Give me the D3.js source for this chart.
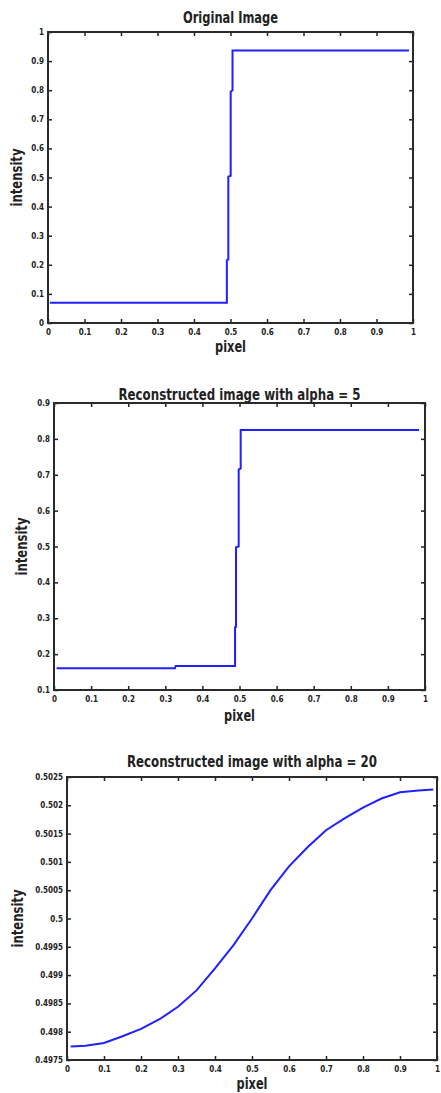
<!DOCTYPE html>
<html>
<head>
<meta charset="utf-8">
<script src="https://cdn.jsdelivr.net/npm/d3@7"></script>
<style>
  body { margin: 0; background: #fff; }
  text { font-family: "Liberation Sans Narrow", "DejaVu Sans Condensed", sans-serif; font-weight: bold; fill: #222; }
</style>
</head>
<body>
<script>
var width = 441;
var height = 1093;

// panel 1: original step
var pixel1 = [0.005, 0.49, 0.49, 0.494, 0.494, 0.5005, 0.5005, 0.5055, 0.5055, 0.989];
var intensity1 = [0.07, 0.07, 0.216, 0.218, 0.503, 0.506, 0.795, 0.80, 0.936, 0.936];

// panel 2: alpha = 5
var pixel2 = [0.007, 0.326, 0.328, 0.488, 0.488, 0.4906, 0.4906, 0.4978, 0.4978, 0.5032, 0.5032, 0.984];
var intensity2 = [0.1605, 0.1605, 0.1669, 0.1669, 0.275, 0.276, 0.498, 0.50, 0.715, 0.717, 0.8247, 0.8247];

// panel 3: alpha = 20
var pixel3 = [0.01, 0.05, 0.1, 0.15, 0.2, 0.25, 0.3, 0.35, 0.4, 0.45, 0.5, 0.55, 0.6, 0.65, 0.7, 0.75, 0.8, 0.85, 0.9, 0.95, 0.99];
var intensity3 = [0.49774, 0.49775, 0.4978, 0.49792, 0.49805, 0.49822, 0.49844, 0.49873, 0.49912, 0.49953, 0.5,
                  0.5005, 0.50092, 0.50126, 0.50156, 0.50177, 0.50196, 0.50212, 0.50223, 0.50226, 0.50228];

var xTicks = [0, 0.1, 0.2, 0.3, 0.4, 0.5, 0.6, 0.7, 0.8, 0.9, 1];
var yTicks1 = [0, 0.1, 0.2, 0.3, 0.4, 0.5, 0.6, 0.7, 0.8, 0.9, 1];
var yTicks2 = [0.1, 0.2, 0.3, 0.4, 0.5, 0.6, 0.7, 0.8, 0.9];
var yTicks3 = [0.4975, 0.498, 0.4985, 0.499, 0.4995, 0.5, 0.5005, 0.501, 0.5015, 0.502, 0.5025];

var titles = ["Original Image", "Reconstructed image with alpha = 5", "Reconstructed image with alpha = 20"];

var svg = d3.select("body")
  .append("svg")
  .attr("width", width)
  .attr("height", height);

var panels = [
  { xs: pixel1, ys: intensity1, yDomain: [0, 1], yTicks: yTicks1, title: titles[0],
    left: 48, right: 413, top: 32, bottom: 323, titleY: 23, titleW: 95, yLabX: 22, xLabY: 352 },
  { xs: pixel2, ys: intensity2, yDomain: [0.1, 0.9], yTicks: yTicks2, title: titles[1],
    left: 54, right: 425, top: 403, bottom: 690, titleY: 400, titleW: 242, yLabX: 27, xLabY: 721 },
  { xs: pixel3, ys: intensity3, yDomain: [0.4975, 0.5025], yTicks: yTicks3, title: titles[2],
    left: 67, right: 437, top: 777, bottom: 1060, titleY: 767, titleW: 250, yLabX: 23, xLabY: 1089 }
];

function fmt(v) { return String(+v.toFixed(4)); }

panels.forEach(function(p) {
  var x = d3.scaleLinear().domain([0, 1]).range([p.left, p.right]);
  var y = d3.scaleLinear().domain(p.yDomain).range([p.bottom, p.top]);
  var g = svg.append("g");

  // ticks on all four sides, pointing inwards
  g.append("g")
    .attr("transform", "translate(0," + p.bottom + ")")
    .call(d3.axisBottom(x).tickValues(xTicks).tickFormat(fmt).tickSizeInner(-4).tickSizeOuter(0).tickPadding(6));
  g.append("g")
    .attr("transform", "translate(0," + p.top + ")")
    .call(d3.axisTop(x).tickValues(xTicks).tickFormat("").tickSizeInner(-4).tickSizeOuter(0));
  g.append("g")
    .attr("transform", "translate(" + p.left + ",0)")
    .call(d3.axisLeft(y).tickValues(p.yTicks).tickFormat(fmt).tickSizeInner(-4).tickSizeOuter(0).tickPadding(4));
  g.append("g")
    .attr("transform", "translate(" + p.right + ",0)")
    .call(d3.axisRight(y).tickValues(p.yTicks).tickFormat("").tickSizeInner(-4).tickSizeOuter(0));

  g.selectAll(".domain").remove();
  g.selectAll(".tick line").attr("stroke", "#222").attr("stroke-width", 1.5);
  g.selectAll(".tick text").attr("font-size", 8).attr("fill", "#222")
    .attr("font-family", "'Liberation Sans Narrow', 'DejaVu Sans Condensed', sans-serif").attr("font-weight", "bold");

  g.append("rect")
    .attr("x", p.left).attr("y", p.top)
    .attr("width", p.right - p.left).attr("height", p.bottom - p.top)
    .attr("fill", "none").attr("stroke", "#2a2a2a").attr("stroke-width", 2);

  var line = d3.line()
    .x(function(d, i) { return x(p.xs[i]); })
    .y(function(d, i) { return y(p.ys[i]); });

  g.append("path")
    .datum(p.xs)
    .attr("d", line)
    .attr("fill", "none")
    .attr("stroke", "#2020ff")
    .attr("stroke-width", 2);

  var cx = (p.left + p.right) / 2;
  g.append("text")
    .attr("x", cx).attr("y", p.titleY)
    .attr("text-anchor", "middle")
    .attr("font-size", 15)
    .attr("textLength", p.titleW).attr("lengthAdjust", "spacingAndGlyphs")
    .text(p.title);

  g.append("text")
    .attr("x", cx).attr("y", p.xLabY)
    .attr("text-anchor", "middle")
    .attr("font-size", 15)
    .attr("textLength", 31).attr("lengthAdjust", "spacingAndGlyphs")
    .text("pixel");

  g.append("text")
    .attr("transform", "translate(" + p.yLabX + "," + ((p.top + p.bottom) / 2) + ") rotate(-90)")
    .attr("text-anchor", "middle")
    .attr("font-size", 15)
    .attr("textLength", 58).attr("lengthAdjust", "spacingAndGlyphs")
    .text("intensity");
});
</script>
</body>
</html>
